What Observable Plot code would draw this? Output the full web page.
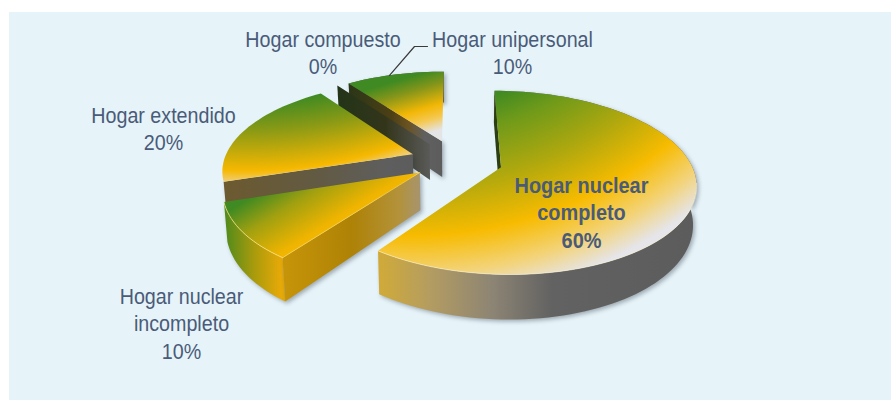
<!DOCTYPE html>
<html lang="es"><head><meta charset="utf-8">
<script src="https://cdn.jsdelivr.net/npm/d3@7"></script>
<script src="https://cdn.jsdelivr.net/npm/@observablehq/plot@0.6"></script>
<style>
html,body{margin:0;padding:0;background:#fff;width:891px;height:400px;overflow:hidden}
#panel{position:absolute;left:9px;top:12px;width:882px;height:388px;background:#e6f3f9}
#chart{position:absolute;left:0;top:0}
.wall{filter:drop-shadow(2px 2px 2px rgba(50,60,70,.4))}
.glow{filter:blur(.7px)}
</style></head><body>
<div id="panel"></div><div id="chart"></div>
<script>
// ---- data
const categories = ["Hogar nuclear completo","Hogar nuclear incompleto","Hogar extendido","Hogar compuesto","Hogar unipersonal"];
const shares = [60,10,20,0,10];
const labelLines = [["Hogar nuclear","completo"],["Hogar nuclear","incompleto"],["Hogar extendido"],["Hogar compuesto"],["Hogar unipersonal"]];
const explosion = [.25,.228,.24,.24,.24];

// ---- layout of the 3-D pie
const W=891,H=400,OX=455,OY=160,A=189,B=87;
const K=.165,DEPTH=37/B,NARROW=.985;
const toX=px=>(px-OX)/A, toY=py=>(OY-py)/B;
const rad=d=>d*Math.PI/180;
const project=(u,v)=>{const d=1+K*v;return {x:u/d,y:v/d,d}};
const upper=(u,v)=>{const p=project(u,v);return {x:p.x,y:p.y}};
const lower=(u,v)=>{const p=project(u,v);return {x:p.x*NARROW,y:p.y-DEPTH/p.d}};

let acc=0;
const slices=shares.map((s,i)=>{
  const a0=acc*3.6,a1=(acc+s)*3.6;acc+=s;
  const mid=rad((a0+a1)/2),u0=explosion[i]*Math.sin(mid),v0=explosion[i]*Math.cos(mid);
  const arc=[];
  const n=Math.max(1,Math.round((a1-a0)/2));
  for(let k=0;k<=n;k++){const t=rad(a0+(a1-a0)*k/n);arc.push([u0+Math.sin(t),v0+Math.cos(t)]);}
  return {i,name:categories[i],share:s,apex:[u0,v0],arc};
});
const face=s=>[upper(...s.apex),...s.arc.map(p=>upper(...p))];
const rimWall=s=>[...s.arc.map(p=>upper(...p)),...s.arc.slice().reverse().map(p=>lower(...p))];
const edgeWall=(s,p)=>[upper(...s.apex),upper(...p),lower(...p),lower(...s.apex)];

// gradients (pixel space)
function stops(g,list){list.forEach(([o,c])=>g.append("stop").attr("offset",o).attr("stop-color",c));}
function defs(){
  const d=d3.create("svg:defs");
  const rg=(id,cx,cy,r,list)=>stops(d.append("radialGradient").attr("id",id).attr("gradientUnits","userSpaceOnUse").attr("cx",cx).attr("cy",cy).attr("r",r),list);
  const lg=(id,x1,y1,x2,y2,list)=>stops(d.append("linearGradient").attr("id",id).attr("gradientUnits","userSpaceOnUse").attr("x1",x1).attr("y1",y1).attr("x2",x2).attr("y2",y2),list);
  rg("fBig",413,-165,500,[[.54,"#3f8a22"],[.60,"#6f9a1a"],[.70,"#b0a80e"],[.80,"#f7bb00"],[.875,"#f3d377"],[.935,"#e5e5ea"],[1,"#e5e5ea"]]);
  rg("fExt",247,-295,500,[[.79,"#3f8a22"],[.85,"#8a9a15"],[.93,"#f6b800"],[.955,"#f0d080"],[.97,"#e5e5e8"],[1,"#e5e5e8"]]);
  lg("fInc",230,195,283,280,[[.12,"#3f8a22"],[.4,"#a0a010"],[.75,"#efb400"],[1,"#f8c108"]]);
  lg("fUni",380,75,403,152,[[.12,"#3f8a22"],[.3,"#85951a"],[.55,"#f2b705"],[.7,"#f5c850"],[.86,"#e4e4e6"],[1,"#e4e4e6"]]);
  lg("wBig",381,0,691,0,[[0,"#cfaa3a"],[.16,"#b39c62"],[.36,"#8c8474"],[.55,"#626262"],[1,"#5c5c5c"]]);
  lg("wIncRim",224,0,290,0,[[0,"#4f8a1c"],[.45,"#a99b0c"],[.85,"#e6a908"],[1,"#e0a80c"]]);
  lg("wIncEdge",285,0,418,0,[[0,"#c69408"],[.5,"#ae8206"],[.85,"#b3923a"],[1,"#a8946a"]]);
  lg("wExt",225,0,415,0,[[0,"#6c5a30"],[.5,"#625a44"],[.85,"#5e5e5e"],[1,"#5c5c5c"]]);
  lg("wCom",337,0,432,0,[[0,"#233418"],[.5,"#33351a"],[1,"#5c5c5c"]]);
  lg("wUni",348,0,443,0,[[0,"#2a3618"],[.45,"#4c3f14"],[.62,"#6a5220"],[.8,"#606060"],[1,"#5c5c5c"]]);
  return d.node();
}

const poly=(pts,fill,cls)=>Plot.line(pts,{x:"x",y:"y",fill,stroke:"none",className:cls});
const [big,inc,ext,com,uni]=slices;
const px=(x,y)=>({x:toX(x),y:toY(y)});

// label table
const labelAt=[[581,211],[181,322],[163,127],[322.5,51],[512,51]];
const labels=slices.map((s,i)=>({text:[...labelLines[i],s.share+"%"].join("\n"),...px(...labelAt[i]),bold:i===0}));
const rimMid=uni.arc[Math.round(uni.arc.length*.42)];
const leader=[upper(...rimMid),px(414,46),px(427,46)];

const txt=(rows,w)=>Plot.text(rows,{x:"x",y:"y",text:"text",fontFamily:"'Liberation Sans',Arial,sans-serif",fontSize:22,lineHeight:1.25,fontWeight:w,fill:"#4a5b78",textAnchor:"middle"});

const chart=Plot.plot({
  width:W,height:H,margin:0,
  style:{background:"transparent"},
  x:{domain:[toX(0),toX(W)],range:[0,W],axis:null},
  y:{domain:[toY(0),toY(H)],range:[0,H],axis:null},
  marks:[
    defs,
    // unipersonal
    poly(rimWall(uni),"#5c5c5c","wall"),
    poly(edgeWall(uni,uni.arc[0]),"url(#wUni)","wall"),
    poly(face(uni),"url(#fUni)"),
    // compuesto (zero share: only its wall shows)
    poly(edgeWall(com,com.arc[0]),"url(#wCom)"),
    // extendido
    poly(edgeWall(ext,ext.arc[0]),"url(#wExt)","wall"),
    poly(face(ext),"url(#fExt)"),
    // incompleto
    poly(rimWall(inc),"url(#wIncRim)","wall"),
    poly(edgeWall(inc,inc.arc[0]),"url(#wIncEdge)","wall"),
    poly(face(inc),"url(#fInc)"),
    Plot.line(inc.arc.map(p=>upper(...p)),{x:"x",y:"y",stroke:"#fbe38a",strokeWidth:1,strokeOpacity:.8,className:"glow"}),
    Plot.line([upper(...inc.apex),upper(...inc.arc[0])],{x:"x",y:"y",stroke:"#f5cf55",strokeWidth:1,strokeOpacity:.8,className:"glow"}),
    // completo
    poly(rimWall(big),"url(#wBig)","wall"),
    poly(edgeWall(big,big.arc[0]),"#2c3f14"),
    poly(face(big),"url(#fBig)"),
    Plot.line(big.arc.slice(50).map(p=>upper(...p)),{x:"x",y:"y",stroke:"#fdf4d0",strokeWidth:1,strokeOpacity:.6,className:"glow"}),
    // leader + labels
    Plot.line(leader,{x:"x",y:"y",stroke:"#3a3a3a",strokeWidth:1.2}),
    txt(labels.filter(d=>!d.bold),"normal"),
    txt(labels.filter(d=>d.bold),"bold")
  ]
});
// the reference sets its labels in a condensed face: narrow each label in place
d3.select(chart).selectAll("text").each(function(){
  const bold=this.parentNode.getAttribute("font-weight")==="bold";
  this.setAttribute("transform",(this.getAttribute("transform")||"")+` scale(${bold?.905:.895},1)`);
});
document.getElementById("chart").append(chart);
</script></body></html>
